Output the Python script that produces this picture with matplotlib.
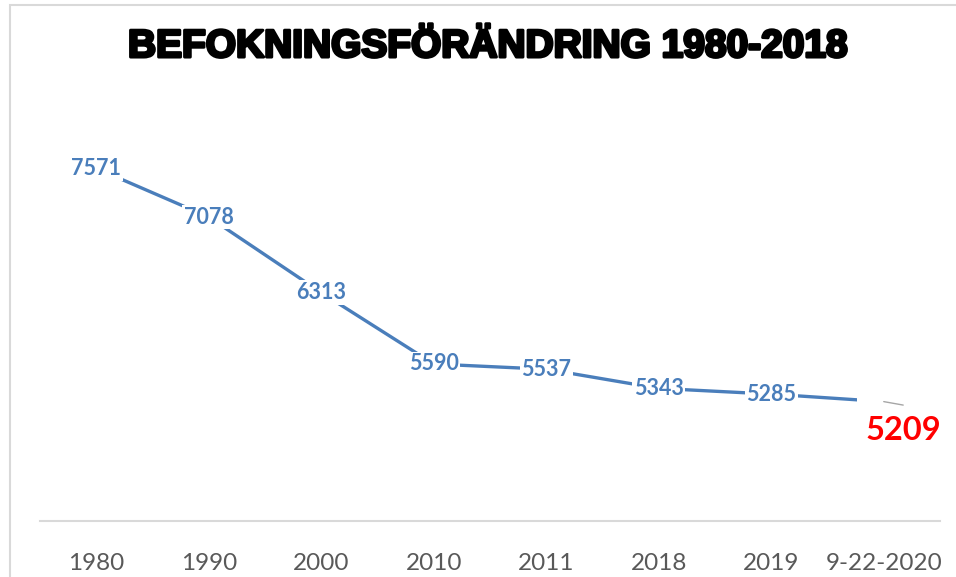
import matplotlib.pyplot as plt
import matplotlib.patheffects as pe
from matplotlib.patches import Rectangle

# befolkning per år
years = ['1980', '1990', '2000', '2010', '2011', '2018', '2019', '9-22-2020']
population = [7571, 7078, 6313, 5590, 5537, 5343, 5285, 5209]
title = 'BEFOKNINGSFÖRÄNDRING 1980-2018'

blue = '#4A7EBB'
x = list(range(len(years)))

fig = plt.figure(figsize=(9.56, 5.77), dpi=100)
ax = fig.add_axes([40/956, 56/577, 900/956, 395/577])

ax.plot(x, population, color=blue, linewidth=2.4, zorder=2)

# dataetiketter centrerade på punkterna
for i, v in enumerate(population[:-1]):
    ax.text(i, v, str(v), ha='center', va='center', fontsize=15.5, fontweight='bold',
            family='Lato', color=blue, zorder=3,
            bbox=dict(boxstyle='square,pad=0.08', fc='white', ec='none'))

# sista punkten: tom ruta + flyttad röd etikett med hänvisningslinje
ax.text(x[-1], population[-1], str(population[-1]), ha='center', va='center', fontsize=15.5,
        fontweight='bold', family='Lato', color='white', zorder=3,
        bbox=dict(boxstyle='square,pad=0.08', fc='white', ec='none'))
ax.annotate('', xy=(x[-1], population[-1]), xytext=(14, -2.5), textcoords='offset points',
            arrowprops=dict(arrowstyle='-', color='#A6A6A6', lw=1, shrinkA=0, shrinkB=0), zorder=4)
ax.annotate(str(population[-1]), xy=(x[-1], population[-1]), xytext=(14, -21),
            textcoords='offset points', ha='center', va='center', fontsize=23.5,
            fontweight='bold', family='Lato', color='#FF0000', zorder=4)

ax.set_xlim(-0.5, len(years) - 0.5)
ax.set_ylim(4000, 8000)
ax.set_xticks(x)
ax.set_xticklabels(years, fontsize=17.5, color='#595959', family='Lato')
ax.tick_params(axis='x', length=0, pad=23)
ax.set_yticks([])
for s in ['top', 'right', 'left']:
    ax.spines[s].set_visible(False)
ax.spines['bottom'].set_color('#D9D9D9')
ax.spines['bottom'].set_linewidth(1.5)

# rubrik, extra tjock med kontur
fig.text(488/956, 1 - 47/577, title, ha='center', va='center', fontsize=28,
         fontweight='bold', family='Liberation Sans', color='black',
         path_effects=[pe.withStroke(linewidth=2.2, foreground='black')])

# ram runt diagrammet
fig.patches.append(Rectangle((10/956, -0.1), 1.2, 1.1 - 5/577, transform=fig.transFigure,
                             fill=False, ec='#D9D9D9', lw=1.5))

fig.savefig('out.png', dpi=100)
